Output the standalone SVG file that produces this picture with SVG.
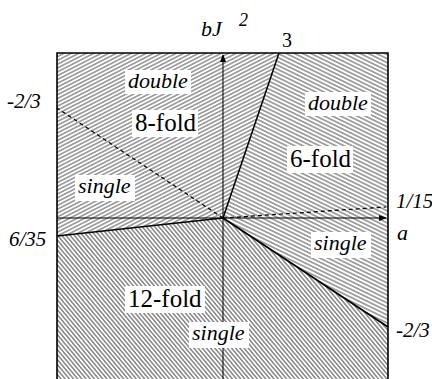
<svg xmlns="http://www.w3.org/2000/svg" width="432" height="379" viewBox="0 0 432 379">
<defs>
<pattern id="h8" patternUnits="userSpaceOnUse" width="20" height="3.4" patternTransform="rotate(-27)">
<rect width="20" height="3.4" fill="#fff"/><line x1="0" y1="1.7" x2="20" y2="1.7" stroke="#444" stroke-width="0.9"/>
</pattern>
<pattern id="h6" patternUnits="userSpaceOnUse" width="20" height="3.6" patternTransform="rotate(26)">
<rect width="20" height="3.6" fill="#fff"/><line x1="0" y1="1.8" x2="20" y2="1.8" stroke="#333" stroke-width="0.9"/>
</pattern>
<pattern id="h12" patternUnits="userSpaceOnUse" width="20" height="3.2" patternTransform="rotate(50)">
<rect width="20" height="3.2" fill="#fff"/><line x1="0" y1="1.6" x2="20" y2="1.6" stroke="#333" stroke-width="0.9"/>
</pattern>
<marker id="arr" markerWidth="8" markerHeight="6" refX="7" refY="3" orient="auto" markerUnits="userSpaceOnUse">
<path d="M0,0 L8,3 L0,6 Z" fill="#000"/>
</marker>
<style>
.it{font-style:italic;font-size:22px}
.fold{font-size:25px}
.num{font-style:italic;font-size:21px}
.bg{fill:#fff}
.bd{stroke:#000;fill:none}
</style>
</defs>
<g id="regions">
<path id="r8" d="M57,53 L279,53 L223,218 L57,236 Z" fill="url(#h8)"/>
<path id="r6" d="M279,53 L388,53 L388,327 L223,218 Z" fill="url(#h6)"/>
<path id="r12" d="M57,236 L223,218 L388,327 L388,379 L57,379 Z" fill="url(#h12)"/>
</g>
<g id="connectors">
<path class="bd" d="M57,379 L57,53 L388,53 L388,379" stroke-width="1.6"/>
<line class="bd" x1="57" y1="218" x2="386" y2="218" stroke-width="1" marker-end="url(#arr)"/>
<line class="bd" x1="223" y1="379" x2="223" y2="55" stroke-width="1" marker-end="url(#arr)"/>
<line class="bd" x1="223" y1="218" x2="279" y2="53" stroke-width="1.5"/>
<line class="bd" x1="223" y1="218" x2="57" y2="236" stroke-width="1.6"/>
<line class="bd" x1="223" y1="218" x2="388" y2="327" stroke-width="1.8"/>
<line class="bd" x1="223" y1="218" x2="57" y2="108" stroke-width="1.2" stroke-dasharray="4,3"/>
<line class="bd" x1="223" y1="218" x2="386" y2="207" stroke-width="1.2" stroke-dasharray="4,3"/>
</g>
<g font-family="Liberation Serif, Times New Roman, serif" fill="#000">
<g id="label-double-8">
<rect class="bg" x="125" y="70" width="66" height="24"/>
<text class="it" x="128" y="88">double</text>
</g>
<g id="label-8fold">
<rect class="bg" x="132" y="110" width="66" height="27"/>
<text class="fold" x="135" y="131">8-fold</text>
</g>
<g id="label-single-8">
<rect class="bg" x="75" y="175" width="60" height="26"/>
<text class="it" x="78" y="193">single</text>
</g>
<g id="label-double-6">
<rect class="bg" x="305" y="92" width="66" height="24"/>
<text class="it" x="308" y="110">double</text>
</g>
<g id="label-6fold">
<rect class="bg" x="287" y="146" width="66" height="27"/>
<text class="fold" x="290" y="167">6-fold</text>
</g>
<g id="label-single-6">
<rect class="bg" x="311" y="232" width="60" height="26"/>
<text class="it" x="314" y="250">single</text>
</g>
<g id="label-12fold">
<rect class="bg" x="125" y="286" width="80" height="27"/>
<text class="fold" x="128" y="307">12-fold</text>
</g>
<g id="label-single-12">
<rect class="bg" x="189" y="322" width="60" height="26"/>
<text class="it" x="192" y="340">single</text>
</g>
<g id="axis-labels">
<text class="it" x="201" y="36">bJ</text>
<text x="239" y="26" font-size="18" font-style="italic">2</text>
<text x="282" y="47" font-size="20">3</text>
<text class="num" x="7" y="108">-2/3</text>
<text class="num" x="9" y="246">6/35</text>
<text class="num" x="396" y="208">1/15</text>
<text class="it" x="397" y="240">a</text>
<text class="num" x="396" y="337">-2/3</text>
</g>
</g>
</svg>
